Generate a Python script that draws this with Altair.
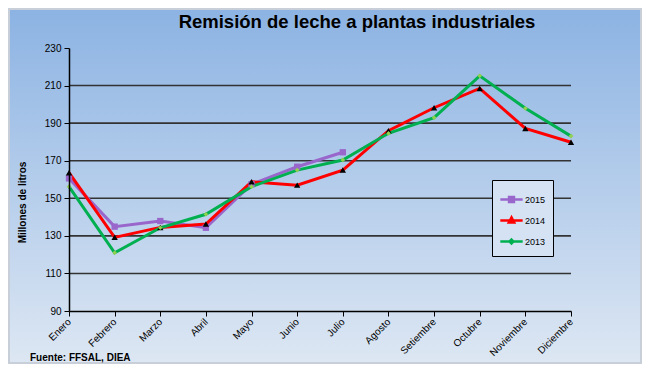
import altair as alt
import pandas as pd

meses = ["Enero", "Febrero", "Marzo", "Abril", "Mayo", "Junio", "Julio",
         "Agosto", "Setiembre", "Octubre", "Noviembre", "Diciembre"]
v2015 = [160.6, 134.9, 137.9, 134.3, 157.5, 166.8, 174.5]
v2014 = [163.6, 129.2, 134.5, 136.3, 158.8, 157.0, 165.0, 186.0, 198.2, 208.5, 187.2, 179.8]
v2013 = [156.2, 121.0, 134.3, 141.5, 156.2, 165.0, 170.4, 184.6, 192.9, 215.2, 197.9, 183.1]
series = ["2015", "2014", "2013"]
line_colors = ["#9966cc", "#ff0000", "#00b050"]
marker_colors = ["#9966cc", "#000000", "#92d050"]
y_ticks = [90, 110, 130, 150, 170, 190, 210, 230]
grid_vals = [110, 130, 150, 170, 190, 210]
titulo = "Remisión de leche a plantas industriales"
fuente = "Fuente: FFSAL, DIEA"

rows = []
for name, vals in zip(series, [v2015, v2014, v2013]):
    for m, v in zip(meses, vals):
        rows.append({"mes": m, "serie": name, "valor": v})
df = pd.DataFrame(rows)

W, H = 502, 263
PL, PT, PR, PB = 61, 40, 71, 53
FONT = "Liberation Sans"
YS = alt.Scale(domain=[90, 230], nice=False, zero=False)

bg = alt.Chart(alt.Data(values=[{}])).mark_rect(
    fill=alt.LinearGradient(gradient="linear", x1=0, x2=0, y1=0, y2=1,
                            stops=[alt.GradientStop(color="#8cb3e3", offset=0),
                                   alt.GradientStop(color="#dde7f3", offset=1)]),
    stroke="#c9cfd8", strokeWidth=2
).encode(x=alt.value(-PL + 1), x2=alt.value(W + PR - 1),
         y=alt.value(-PT + 1), y2=alt.value(H + PB - 1))

xaxis = alt.Axis(title=None, labelAngle=-45, labelAlign="right", labelBaseline="middle",
                 labelFontSize=10, labelColor="black", labelOverlap=False,
                 labelFont=FONT, tickColor="black", domainColor="black",
                 tickSize=5, domainWidth=1.5, grid=False, labelPadding=4, zindex=2)
yaxis = alt.Axis(values=y_ticks, grid=False, title="Millones de litros",
                 titleFont=FONT, titleFontSize=10, titleFontWeight="bold",
                 titleColor="black", titleX=-42, titleY=154, labelOverlap=False,
                 labelFontSize=10, labelColor="black", labelFont=FONT,
                 tickColor="black", domainColor="black", tickSize=5,
                 domainWidth=1.5, labelPadding=3, zindex=2)
xenc = alt.X("mes:N", sort=meses, scale=alt.Scale(type="point", padding=0, domain=meses), axis=xaxis)
yenc = alt.Y("valor:Q", scale=YS, axis=yaxis)

grid = alt.Chart(pd.DataFrame({"g": grid_vals})).mark_rule(
    color="#333333", strokeWidth=1.6).encode(y=alt.Y("g:Q", scale=YS, axis=yaxis))

leg = alt.Legend(title=None, orient="none", legendX=423, legendY=132,
                 fillColor="#d4e2f4", strokeColor="black", padding=7,
                 labelFontSize=9, labelFont=FONT, labelColor="black",
                 symbolSize=500, symbolStrokeWidth=2.5, rowPadding=1, labelOffset=1,
                 symbolOpacity=1, zindex=3)
lines = alt.Chart(df).mark_line(strokeWidth=3).encode(
    x=xenc, y=yenc,
    color=alt.Color("serie:N", sort=series,
                    scale=alt.Scale(domain=series, range=line_colors), legend=leg),
    order=alt.Order("serie:N")
)

shape_paths = ["M-1,0L1,0M-0.22,-0.22L0.22,-0.22L0.22,0.22L-0.22,0.22Z",
               "M-1,0L1,0M0,-0.28L0.24,0.18L-0.24,0.18Z",
               "M-1,0L1,0M0,-0.17L0.17,0L0,0.17L-0.17,0Z"]
legend_layer = alt.Chart(df).transform_calculate(hid="0").mark_point(
    filled=True, strokeWidth=2.5, clip=True).encode(
    x=xenc, y=alt.Y("hid:Q", scale=YS, axis=yaxis),
    stroke=alt.Stroke("serie:N", sort=series, scale=alt.Scale(domain=series, range=line_colors), legend=leg),
    fill=alt.Fill("serie:N", sort=series, scale=alt.Scale(domain=series, range=marker_colors), legend=leg),
    shape=alt.Shape("serie:N", sort=series, scale=alt.Scale(domain=series, range=shape_paths), legend=leg),
)

p15 = alt.Chart(df).transform_filter("datum.serie=='2015'").mark_point(
    shape="square", filled=True, size=40, color="#9966cc", opacity=1).encode(x=xenc, y=yenc)
p14 = alt.Chart(df).transform_filter("datum.serie=='2014'").mark_point(
    shape="triangle-up", filled=True, size=40, color="#000000", opacity=1).encode(x=xenc, y=yenc)
p13 = alt.Chart(df).transform_filter("datum.serie=='2013'").mark_point(
    shape="diamond", filled=True, size=22, color="#92d050", opacity=1).encode(x=xenc, y=yenc)

footer = alt.Chart(alt.Data(values=[{"t": fuente}])).mark_text(
    align="left", baseline="middle", fontSize=10,
    fontWeight="bold", font=FONT, color="black"
).encode(text="t:N", x=alt.value(-39), y=alt.value(310))

title = alt.Chart(alt.Data(values=[{"t": titulo}])).mark_text(
    align="center", baseline="middle", fontSize=18.5,
    fontWeight="bold", font=FONT, color="black"
).encode(text="t:N", x=alt.value(W / 2 + 37), y=alt.value(-26))

chart = alt.layer(bg, grid, lines, p15, p14, p13, legend_layer, footer, title).properties(
    width=W, height=H,
    autosize=alt.AutoSizeParams(type="none"),
    padding={"left": PL, "top": PT, "right": PR, "bottom": PB},
).configure_view(stroke="white", strokeWidth=1.5).configure(background="white")

chart.save("out.html", embed_options={"renderer": "svg", "actions": False})
